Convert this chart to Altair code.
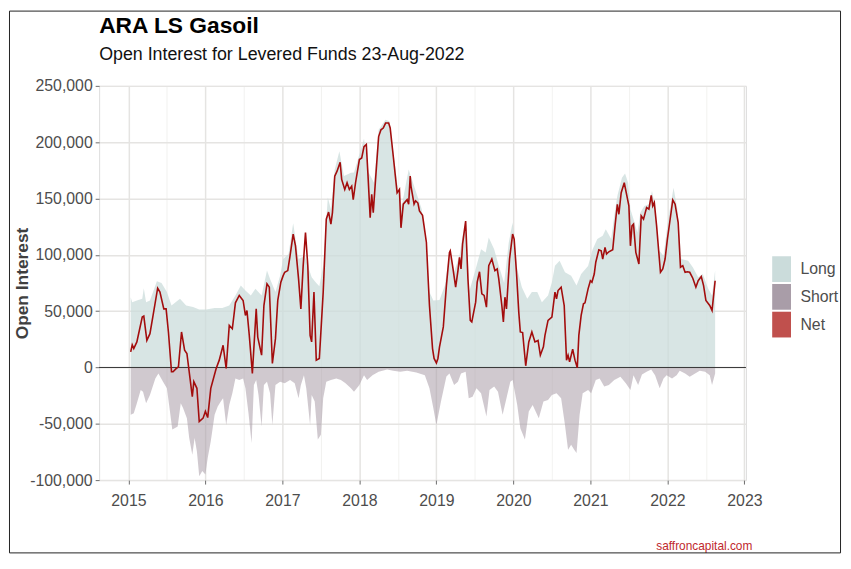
import altair as alt
import pandas as pd

FONT = "Liberation Sans, Arial, sans-serif"

# ---- Net position (decimal year, contracts) ----
net_x = [
    2015.03, 2015.05, 2015.07, 2015.11, 2015.18, 2015.20, 2015.24, 2015.28, 2015.32, 2015.38, 2015.41, 2015.46, 2015.49,
    2015.52, 2015.56, 2015.58, 2015.62, 2015.65, 2015.69, 2015.73, 2015.76, 2015.83, 2015.85, 2015.89, 2015.92, 2015.97,
    2016.00, 2016.03, 2016.07, 2016.14, 2016.18, 2016.23, 2016.27, 2016.31, 2016.35, 2016.39, 2016.44, 2016.49, 2016.52,
    2016.54, 2016.57, 2016.61, 2016.66, 2016.68, 2016.73, 2016.76, 2016.80, 2016.83, 2016.87, 2016.91, 2016.94, 2016.98,
    2017.01, 2017.03, 2017.07, 2017.10, 2017.14, 2017.17, 2017.21, 2017.24, 2017.27, 2017.30, 2017.33, 2017.36, 2017.38,
    2017.41, 2017.44, 2017.48, 2017.53, 2017.57, 2017.60, 2017.63, 2017.65, 2017.68, 2017.71, 2017.75, 2017.77, 2017.81,
    2017.84, 2017.87, 2017.90, 2017.92, 2017.95,
    2018.00, 2018.03, 2018.06, 2018.09, 2018.11, 2018.14, 2018.16, 2018.18, 2018.21, 2018.25, 2018.28, 2018.31, 2018.34,
    2018.38, 2018.40, 2018.44, 2018.49, 2018.52, 2018.54, 2018.57, 2018.62, 2018.64, 2018.66, 2018.67, 2018.71, 2018.73,
    2018.76, 2018.78, 2018.82, 2018.87, 2018.91, 2018.95, 2018.97,
    2019.00, 2019.02, 2019.04, 2019.09, 2019.13, 2019.17, 2019.18, 2019.21, 2019.25, 2019.28, 2019.30, 2019.32, 2019.34,
    2019.38, 2019.41, 2019.44, 2019.46, 2019.51, 2019.53, 2019.56, 2019.59, 2019.62, 2019.65, 2019.68, 2019.72, 2019.76,
    2019.79, 2019.81, 2019.85, 2019.87, 2019.89, 2019.91, 2019.95, 2019.99,
    2020.01, 2020.04, 2020.07, 2020.09, 2020.12, 2020.16, 2020.20, 2020.24, 2020.28, 2020.32, 2020.35, 2020.39, 2020.41,
    2020.45, 2020.50, 2020.54, 2020.56, 2020.58, 2020.62, 2020.66, 2020.69, 2020.71, 2020.73, 2020.77, 2020.80, 2020.83,
    2020.85, 2020.88, 2020.91, 2020.93, 2020.97,
    2021.00, 2021.02, 2021.05, 2021.07, 2021.11, 2021.14, 2021.16, 2021.19, 2021.21, 2021.24, 2021.29, 2021.32, 2021.35,
    2021.37, 2021.40, 2021.44, 2021.47, 2021.50, 2021.52, 2021.54, 2021.56, 2021.59, 2021.63, 2021.66, 2021.69, 2021.73,
    2021.76, 2021.79, 2021.81, 2021.83, 2021.86, 2021.91, 2021.94, 2021.97,
    2022.00, 2022.03, 2022.07, 2022.10, 2022.14, 2022.17, 2022.20, 2022.23, 2022.26, 2022.29, 2022.33, 2022.37, 2022.40,
    2022.44, 2022.47, 2022.50, 2022.55, 2022.58, 2022.62,
]
net_y = [
    13900, 20000, 16800, 22700, 44800, 45600, 24000, 30000, 46000, 70400, 66900, 52000, 52000,
    31500, -3800, -3800, -1000, 600, 31500, 15300, 12400, -25900, -12600, -18500, -48000, -45000,
    -39000, -44500, -18500, -900, 6500, 19700, -900, 37400, 34400, 57400, 63900, 59500, 46200,
    50600, 28500, -5300, 52000, 27000, 10900, 55000, 74200, 71300, 3500, 25600, 59500, 75700,
    81500, 84500, 86000, 99200, 118400, 108000, 78600, 52000, 90400, 119800, 90400, 28500, 22700,
    66900, 6500, 8000, 66900, 131600, 138000, 127200, 137500, 169900, 174300, 182200, 167000, 158000,
    164000, 158000, 161000, 149000, 164000,
    184600, 186000, 196000, 198000, 173000, 133000, 153700, 137500, 167000, 205000, 211000, 212600, 217000,
    217000, 212600, 187500, 155000, 158000, 124000, 145000, 149000, 145000, 170000, 161000, 145000, 148000,
    146000, 139000, 135000, 111000, 55000, 16800, 8000,
    4000, 8000, 18000, 36000, 72700, 102200, 103600, 90400, 71300, 86000, 97800, 87500, 109500,
    130000, 78600, 41800, 40400, 58000, 75700, 85000, 65400, 64000, 53600, 90400, 96300, 86000,
    87500, 78600, 55000, 40400, 62400, 52000, 96300, 118400,
    114000, 84500, 49000, 31500, 31000, 1500, 22700, 31500, 22700, 24000, 10900, 18300, 28500,
    41800, 44800, 66900, 61000, 68300, 71300, 55000, 6500, 10900, 5000, 16200, 6500, -300,
    28500, 46200, 56500, 57400, 69800,
    77000, 75700, 83000, 93400, 104500, 103600, 96300, 106600, 100700, 102700, 104500, 125700, 144900,
    136000, 155200, 164000, 153700, 143400, 108000, 125700, 127200, 102200, 91900, 134600, 131600, 142000,
    140500, 152800, 143400, 146400, 125700, 84500, 87500, 96300,
    114000, 128700, 148700, 145000, 128700, 89000, 90400, 84500, 85000, 84500, 79200, 71300, 77000,
    80700, 72700, 59500, 55000, 50600, 77000,
]

# ---- Short open interest ----
short_x = [
    2015.03, 2015.07, 2015.11, 2015.16, 2015.19, 2015.23, 2015.28, 2015.35, 2015.39, 2015.45, 2015.50, 2015.54,
    2015.57, 2015.60, 2015.64, 2015.68, 2015.71, 2015.76, 2015.79, 2015.83, 2015.86, 2015.89, 2015.92, 2015.96,
    2016.00, 2016.03, 2016.07, 2016.12, 2016.16, 2016.20, 2016.23, 2016.27, 2016.31, 2016.35, 2016.39, 2016.44,
    2016.49, 2016.52, 2016.56, 2016.60, 2016.63, 2016.66, 2016.69, 2016.73, 2016.76, 2016.80, 2016.84, 2016.87,
    2016.91, 2016.97,
    2017.03, 2017.10, 2017.16, 2017.21, 2017.24, 2017.28, 2017.31, 2017.36, 2017.38, 2017.42, 2017.46, 2017.50,
    2017.53, 2017.57, 2017.63, 2017.70, 2017.76, 2017.82, 2017.89, 2017.93,
    2018.00, 2018.06, 2018.10, 2018.17, 2018.25, 2018.36, 2018.44, 2018.53, 2018.62, 2018.74, 2018.85, 2018.91,
    2018.96,
    2019.00, 2019.06, 2019.13, 2019.17, 2019.23, 2019.28, 2019.32, 2019.38, 2019.42, 2019.47, 2019.52, 2019.58,
    2019.65, 2019.69, 2019.75, 2019.80, 2019.86, 2019.91, 2019.96, 2019.99,
    2020.05, 2020.09, 2020.15, 2020.20, 2020.25, 2020.33, 2020.39, 2020.45, 2020.50, 2020.56, 2020.62, 2020.67,
    2020.71, 2020.75, 2020.79, 2020.82, 2020.86, 2020.90, 2020.97,
    2021.01, 2021.07, 2021.12, 2021.18, 2021.24, 2021.31, 2021.39, 2021.46, 2021.52, 2021.56, 2021.62, 2021.67,
    2021.73, 2021.79, 2021.84, 2021.90, 2021.95, 2021.99,
    2022.06, 2022.12, 2022.16, 2022.23, 2022.29, 2022.36, 2022.42, 2022.49, 2022.55, 2022.58, 2022.62,
]
short_y = [
    -42000, -40600, -31800, -20000, -21500, -31800, -24500, -9700, -5300, -12600, -18500, -39000,
    -55000, -54000, -52400, -31800, -36000, -45000, -62700, -77500, -62700, -74500, -96500, -92000,
    -95000, -80400, -65600, -42000, -34700, -30300, -27400, -51000, -33300, -23000, -9700, -11200,
    -9700, -18500, -40600, -67000, -15600, -11200, -24500, -52400, -15600, -12600, -23000, -51000,
    -15600, -12600,
    -14100, -11200, -14100, -27400, -15600, -6800, -18500, -51000, -24500, -30300, -64000, -59800,
    -27400, -12600, -11200, -9700, -11200, -14100, -18500, -21500,
    -15600, -6800, -11200, -6800, -3800, -1800, -2900, -3800, -2900, -4400, -6800, -18500,
    -36000,
    -51000, -30000, -8000, -5300, -15600, -12600, -5300, -3800, -27400, -26000, -18500, -23000,
    -43600, -20000, -17000, -21500, -42000, -27400, -12600, -11200,
    -33300, -54000, -64000, -39000, -33300, -45000, -30300, -28900, -24500, -23000, -27400, -51000,
    -73000, -68600, -73000, -76000, -42000, -23000, -20000,
    -23000, -11200, -9700, -17000, -15600, -11200, -8200, -14100, -20000, -6800, -15600, -6200,
    -3800, -1800, -6800, -18500, -9700, -6800,
    -9700, -6800, -2900, -5300, -8200, -5300, -2900, -3800, -6800, -15600, -5300,
]

# ---- Long open interest ----
long_x = [
    2015.03, 2015.05, 2015.11, 2015.18, 2015.20, 2015.23, 2015.28, 2015.32, 2015.37, 2015.43, 2015.50, 2015.56,
    2015.67, 2015.75, 2015.84, 2015.92,
    2016.01, 2016.12, 2016.22, 2016.31, 2016.39, 2016.46, 2016.52, 2016.59, 2016.65, 2016.73, 2016.80, 2016.84,
    2016.91, 2016.97,
    2017.01, 2017.08, 2017.14, 2017.21, 2017.29, 2017.38, 2017.44, 2017.48, 2017.53, 2017.59, 2017.63, 2017.68,
    2017.74, 2017.80, 2017.89, 2017.93,
    2018.00, 2018.06, 2018.12, 2018.19, 2018.25, 2018.34, 2018.39, 2018.44, 2018.50, 2018.55, 2018.64, 2018.74,
    2018.81, 2018.87, 2018.91, 2018.96,
    2019.04, 2019.11, 2019.17, 2019.23, 2019.30, 2019.34, 2019.38, 2019.43, 2019.51, 2019.58, 2019.64, 2019.68,
    2019.75, 2019.81, 2019.88, 2019.94, 2019.99,
    2020.05, 2020.11, 2020.18, 2020.24, 2020.31, 2020.37, 2020.45, 2020.50, 2020.54, 2020.60, 2020.67, 2020.75,
    2020.82, 2020.88, 2020.97,
    2021.03, 2021.09, 2021.16, 2021.20, 2021.27, 2021.31, 2021.35, 2021.41, 2021.45, 2021.49, 2021.52, 2021.56,
    2021.61, 2021.65, 2021.70, 2021.76, 2021.80, 2021.84, 2021.88, 2021.95,
    2022.01, 2022.08, 2022.13, 2022.18, 2022.27, 2022.33, 2022.40, 2022.46, 2022.53, 2022.58, 2022.62,
]
long_y = [
    62400, 58000, 59500, 61000, 70400, 58000, 59500, 66900, 76600, 75000, 66900, 55000,
    61000, 55000, 53600, 51500,
    51500, 52700, 52700, 55000, 63900, 72700, 68300, 63900, 69800, 63900, 86000, 78600,
    66900, 81500,
    96300, 100700, 128000, 96300, 99200, 80000, 75000, 72000, 90400, 150800, 140500, 175800,
    192000, 170000, 172900, 173000,
    189000, 203000, 173000, 164000, 211000, 220000, 218500, 192000, 159600, 143400, 175800, 155000,
    140500, 102200, 66900, 59500,
    60000, 72700, 102000, 85000, 99200, 116900, 128700, 68000, 87500, 105000, 102000, 115400,
    105000, 90400, 75000, 111000, 128700,
    87500, 71300, 61000, 66900, 66900, 58000, 63900, 75700, 90400, 94800, 84500, 81500,
    72700, 83000, 90000,
    105000, 114000, 116900, 122800, 114000, 134600, 152300, 168500, 172300, 164000, 140500, 131600,
    119800, 137500, 143400, 144900, 156600, 143400, 105000, 99200,
    131600, 159600, 140500, 96300, 94800, 89000, 80100, 83000, 69800, 63900, 86000,
]

series_names = ["Long", "Short", "Net"]
legend_colors = ["#CBDCDB", "#A99DA8", "#C0504D"]
x_ticks = [2015, 2015.5, 2016, 2016.5, 2017, 2017.5, 2018, 2018.5, 2019, 2019.5,
           2020, 2020.5, 2021, 2021.5, 2022, 2022.5, 2023]
y_ticks = [-100000, -75000, -50000, -25000, 0, 25000, 50000, 75000, 100000,
           125000, 150000, 175000, 200000, 225000, 250000]

W, H = 653, 398

long_df = pd.DataFrame({"year": long_x, "value": long_y, "series": "Long"})
short_df = pd.DataFrame({"year": short_x, "value": short_y, "series": "Short"})
net_df = pd.DataFrame({"year": net_x, "value": net_y, "series": "Net"})

x_major = "datum.value % 1 === 0"
y_major = "datum.value % 50000 === 0"

x_axis = alt.Axis(
    values=x_ticks,
    labelExpr="datum.value % 1 === 0 ? format(datum.value, 'd') : ''",
    labelFont=FONT, labelFontSize=16, labelColor="#4D4D4D",
    labelFlush=False, labelOverlap=False, labelPadding=9,
    tickSize=4,
    tickColor={"condition": {"test": x_major, "value": "#6B6B6B"}, "value": "transparent"},
    gridColor={"condition": {"test": x_major, "value": "#E5E4E2"}, "value": "#EFEEEC"},
    gridWidth={"condition": {"test": x_major, "value": 1.5}, "value": 0.8},
    domain=False,
    title="saffroncapital.com",
    titleFont=FONT, titleFontSize=12, titleFontWeight="normal", titleColor="#C0282D",
    titleX=W + 6, titleY=70, titleAlign="right", titleAnchor="end", titleBaseline="alphabetic",
)
y_axis = alt.Axis(
    values=y_ticks,
    labelExpr="datum.value % 50000 === 0 ? (datum.value < 0 ? '-' : '') + format(abs(datum.value), ',') : ''",
    labelFont=FONT, labelFontSize=16, labelColor="#4D4D4D",
    labelFlush=False, labelOverlap=False, labelPadding=3,
    tickSize=4,
    tickColor={"condition": {"test": y_major, "value": "#6B6B6B"}, "value": "transparent"},
    gridColor={"condition": {"test": y_major, "value": "#E5E4E2"}, "value": "#EFEEEC"},
    gridWidth={"condition": {"test": y_major, "value": 1.5}, "value": 0.8},
    domain=False,
    title="Open Interest",
    titleFont=FONT, titleFontSize=17.5, titleFontWeight="bold", titleColor="#404040",
    titleX=-72, titleY=H / 2, titleAngle=270, titleAlign="center", titleBaseline="alphabetic",
)

x_enc = alt.X("year:Q", scale=alt.Scale(domain=[2014.62, 2023.02], nice=False, zero=False), axis=x_axis)
y_enc = alt.Y("value:Q", scale=alt.Scale(domain=[-100000, 250000], nice=False), axis=y_axis)

color_enc = alt.Color(
    "series:N",
    scale=alt.Scale(domain=series_names, range=legend_colors),
    legend=alt.Legend(
        title=None, orient="none", legendX=676, legendY=172,
        symbolType="M-0.73,-1H0.73V1H-0.73Z", symbolSize=676, symbolStrokeWidth=0,
        symbolOpacity=1, labelFont=FONT, labelFontSize=16, labelColor="#4D4D4D",
        labelOffset=6, rowPadding=2, padding=0,
    ),
)

long_area = alt.Chart(long_df).mark_area(opacity=0.75).encode(
    x=x_enc, y=y_enc, y2=alt.datum(0), color=color_enc
)
short_area = alt.Chart(short_df).mark_area(opacity=0.55).encode(
    x=x_enc, y=y_enc, y2=alt.datum(0), color=color_enc
)
zero_line = alt.Chart(pd.DataFrame({"value": [0]})).mark_rule(color="#333333", strokeWidth=1).encode(
    y="value:Q"
)
net_line = alt.Chart(net_df).mark_line(color="#A30D0D", strokeWidth=1.6).encode(
    x=x_enc, y=y_enc
)
# thin outer frame around the whole figure (decoration only)
frame = alt.Chart(pd.DataFrame({"f": [0]})).mark_rect(
    fillOpacity=0, stroke="#222222", strokeWidth=1
).encode(
    x=alt.value(-90.5), x2=alt.value(748.5), y=alt.value(-75.5), y2=alt.value(471.5)
)

chart = alt.layer(long_area, short_area, zero_line, net_line, frame).properties(
    width=W, height=H,
    title=alt.TitleParams(
        text="ARA LS Gasoil", subtitle="Open Interest for Levered Funds 23-Aug-2022",
        anchor="start", frame="group", font=FONT, fontSize=23, fontWeight="bold", color="#000000",
        subtitleFont=FONT, subtitleFontSize=18, subtitleColor="#111111",
        offset=14, subtitlePadding=8, dy=68,
    ),
    autosize=alt.AutoSizeParams(type="none"),
    padding={"left": 92, "top": 76, "right": 98, "bottom": 74},
).configure_view(
    fill="#F7F6F4", stroke="#6B6B6B", strokeWidth=1
).configure(background="#FFFFFF")

chart.save("out.html", embed_options={"renderer": "svg", "actions": False})
